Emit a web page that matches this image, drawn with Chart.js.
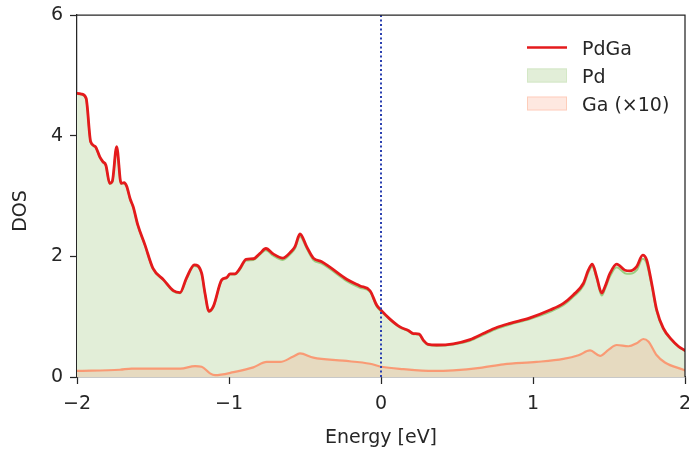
<!DOCTYPE html>
<html>
<head>
<meta charset="utf-8">
<script src="https://cdn.jsdelivr.net/npm/chart.js@4"></script>
<style>
  html, body { margin: 0; padding: 0; background: #ffffff; }
  canvas { display: block; }
</style>
</head>
<body>
<canvas id="dos" width="689" height="452"></canvas>
<script>
// Density of states of PdGa around the Fermi level
const pdgaEnergy = [
  -2.00, -1.97, -1.94, -1.91, -1.88, -1.85, -1.83, -1.81, -1.785, -1.768,
  -1.739, -1.71, -1.69, -1.673, -1.65, -1.63, -1.60, -1.553, -1.50, -1.43,
  -1.366, -1.322, -1.28, -1.228, -1.18, -1.158, -1.132, -1.103, -1.048, -1.015,
  -0.993, -0.961, -0.928, -0.888, -0.84, -0.796, -0.757, -0.709, -0.647, -0.588,
  -0.566, -0.533, -0.489, -0.445, -0.39, -0.336, -0.226, -0.138, -0.072, -0.028,
  0.003, 0.059, 0.125, 0.18, 0.213, 0.252, 0.278, 0.311, 0.366, 0.476,
  0.586, 0.673, 0.761, 0.849, 0.98, 1.112, 1.20, 1.265, 1.331, 1.364,
  1.39, 1.419, 1.452, 1.474, 1.507, 1.551, 1.605, 1.638, 1.682, 1.722,
  1.748, 1.781, 1.814, 1.857, 1.912, 1.956, 2.00
];
const pdgaDos = [
  4.70, 4.69, 4.62, 3.90, 3.82, 3.65, 3.57, 3.51, 3.21, 3.24,
  3.82, 3.21, 3.22, 3.16, 2.95, 2.82, 2.52, 2.19, 1.80, 1.61,
  1.43, 1.40, 1.64, 1.86, 1.72, 1.39, 1.09, 1.17, 1.61, 1.65,
  1.71, 1.71, 1.80, 1.95, 1.96, 2.05, 2.13, 2.04, 1.97, 2.09,
  2.16, 2.37, 2.16, 1.97, 1.91, 1.82, 1.62, 1.51, 1.43, 1.19,
  1.10, 0.96, 0.83, 0.77, 0.72, 0.71, 0.61, 0.54, 0.53, 0.55,
  0.62, 0.72, 0.82, 0.89, 0.98, 1.11, 1.22, 1.36, 1.55, 1.77,
  1.87, 1.66, 1.39, 1.50, 1.72, 1.87, 1.77, 1.76, 1.83, 2.02,
  1.94, 1.55, 1.11, 0.81, 0.62, 0.51, 0.44
];
const pdDos = [
  4.69, 4.68, 4.61, 3.89, 3.81, 3.64, 3.56, 3.50, 3.20, 3.23,
  3.81, 3.20, 3.21, 3.15, 2.94, 2.81, 2.51, 2.18, 1.79, 1.60,
  1.42, 1.39, 1.62, 1.84, 1.70, 1.38, 1.08, 1.16, 1.60, 1.64,
  1.70, 1.70, 1.78, 1.93, 1.94, 2.03, 2.10, 2.01, 1.94, 2.06,
  2.13, 2.33, 2.13, 1.94, 1.88, 1.79, 1.59, 1.48, 1.41, 1.17,
  1.08, 0.95, 0.82, 0.76, 0.71, 0.70, 0.60, 0.53, 0.52, 0.54,
  0.60, 0.70, 0.80, 0.87, 0.96, 1.08, 1.19, 1.33, 1.51, 1.73,
  1.83, 1.63, 1.35, 1.46, 1.67, 1.82, 1.72, 1.71, 1.77, 1.96,
  1.88, 1.51, 1.08, 0.79, 0.61, 0.50, 0.43
];
const gaEnergy = [
  -2.00, -1.717, -1.64, -1.32, -1.224, -1.18, -1.125, -1.092, -0.97, -0.84,
  -0.752, -0.664, -0.577, -0.533, -0.445, -0.248, -0.072, 0.003, 0.147, 0.344,
  0.476, 0.651, 0.805, 1.024, 1.20, 1.299, 1.375, 1.441, 1.496, 1.551,
  1.628, 1.682, 1.726, 1.759, 1.814, 1.868, 1.99, 2.00
];
const gaDos10 = [
  0.10, 0.12, 0.14, 0.14, 0.18, 0.17, 0.06, 0.03, 0.08, 0.16,
  0.25, 0.25, 0.34, 0.39, 0.32, 0.27, 0.22, 0.17, 0.13, 0.10,
  0.11, 0.15, 0.21, 0.25, 0.30, 0.36, 0.44, 0.35, 0.45, 0.53,
  0.51, 0.56, 0.63, 0.59, 0.36, 0.24, 0.12, 0.11
];
const seriesLabels = ['PdGa', 'Pd', 'Ga (\u00d710)'];
const energyTicks = [-2, -1, 0, 1, 2];
const dosTicks = [0, 2, 4, 6];
const fermiLevel = 0;

const INK = '#262626';
const FONT = 'DejaVu Sans';

const toPoints = (xs, ys) => xs.map((x, i) => ({ x, y: ys[i] }));
const fmtTick = v => (v < 0 ? '\u2212' + Math.abs(v) : String(v));

Chart.defaults.font.family = FONT;
Chart.defaults.font.size = 19;
Chart.defaults.color = INK;

// Box frame, Fermi-level marker, axis label and legend
const decorations = {
  id: 'decorations',
  afterDatasetsDraw(chart) {
    const { ctx, chartArea: a, scales: { x } } = chart;
    const xf = x.getPixelForValue(fermiLevel);
    ctx.save();
    ctx.strokeStyle = '#2b40b0';
    ctx.lineWidth = 2;
    ctx.setLineDash([2, 2.5]);
    ctx.beginPath();
    ctx.moveTo(xf, a.top);
    ctx.lineTo(xf, a.bottom);
    ctx.stroke();
    ctx.restore();
  },
  afterDraw(chart) {
    const { ctx, chartArea: a } = chart;
    const ds = chart.data.datasets;
    ctx.save();
    // top and right spines
    ctx.strokeStyle = INK;
    ctx.lineWidth = 1.25;
    ctx.beginPath();
    ctx.moveTo(a.left, a.top);
    ctx.lineTo(a.right, a.top);
    ctx.lineTo(a.right, a.bottom);
    ctx.stroke();

    // y-axis label
    ctx.fillStyle = INK;
    ctx.font = '19px ' + FONT;
    ctx.textAlign = 'center';
    ctx.textBaseline = 'middle';
    ctx.translate(21, 211);
    ctx.rotate(-Math.PI / 2);
    ctx.fillText('DOS', 0, 0);
    ctx.setTransform(1, 0, 0, 1, 0, 0);

    // legend
    const lx = 527, lw = 40, tx = 582;
    const base = [54.5, 82.5, 110.5];
    ctx.textAlign = 'left';
    ctx.textBaseline = 'alphabetic';
    ds.forEach((d, i) => {
      const yb = base[i];
      const yc = yb - 7;
      if (i === 0) {
        ctx.strokeStyle = d.borderColor;
        ctx.lineWidth = 2.6;
        ctx.beginPath();
        ctx.moveTo(lx, yc);
        ctx.lineTo(lx + lw, yc);
        ctx.stroke();
      } else {
        ctx.fillStyle = d.backgroundColor;
        ctx.fillRect(lx, yc - 7, lw, 14);
        ctx.strokeStyle = d.legendEdge;
        ctx.lineWidth = 1;
        ctx.strokeRect(lx + 0.5, yc - 6.5, lw - 1, 13);
      }
      ctx.fillStyle = INK;
      ctx.fillText(d.label, tx, yb);
    });
    ctx.restore();
  }
};

new Chart(document.getElementById('dos'), {
  type: 'line',
  data: {
    datasets: [
      {
        label: seriesLabels[0],
        data: toPoints(pdgaEnergy, pdgaDos),
        borderColor: '#e41a1c',
        borderWidth: 2.8,
        fill: false,
        order: 0
      },
      {
        label: seriesLabels[1],
        data: toPoints(pdgaEnergy, pdDos),
        borderColor: 'rgba(140,200,110,0.85)',
        backgroundColor: 'rgb(226,238,216)',
        legendEdge: 'rgb(212,232,198)',
        borderWidth: 2,
        fill: 'origin',
        order: 2
      },
      {
        label: seriesLabels[2],
        data: toPoints(gaEnergy, gaDos10),
        borderColor: 'rgba(250,150,112,0.95)',
        backgroundColor: 'rgba(252,141,98,0.2)',
        legendEdge: 'rgba(252,141,98,0.3)',
        borderWidth: 2.2,
        fill: 'origin',
        order: 1
      }
    ]
  },
  options: {
    responsive: false,
    animation: false,
    devicePixelRatio: 1,
    layout: { padding: { top: 15, right: 4, left: 0, bottom: 0 } },
    elements: {
      point: { radius: 0, hoverRadius: 0 },
      line: { cubicInterpolationMode: 'monotone', borderJoinStyle: 'round', borderCapStyle: 'round' }
    },
    plugins: {
      legend: { display: false },
      tooltip: { enabled: false },
      filler: { propagate: false }
    },
    scales: {
      x: {
        type: 'linear',
        min: -2,
        max: 2,
        afterBuildTicks: s => { s.ticks = energyTicks.map(v => ({ value: v })); },
        afterFit: s => { s.height = 75; s.paddingLeft = 0; s.paddingRight = 0; },
        ticks: { callback: fmtTick, maxRotation: 0, autoSkip: false, padding: 9, color: INK },
        grid: { drawOnChartArea: false, drawTicks: true, tickLength: 7, tickColor: INK, tickWidth: 1.25 },
        border: { color: INK, width: 1.25 },
        title: { display: true, text: 'Energy [eV]', color: INK, font: { size: 19 }, padding: { top: 0, bottom: 3 } }
      },
      y: {
        type: 'linear',
        min: 0,
        max: 6,
        afterBuildTicks: s => { s.ticks = dosTicks.map(v => ({ value: v })); },
        afterFit: s => { s.width = 77; s.paddingTop = 0; s.paddingBottom = 0; },
        ticks: { callback: fmtTick, padding: 7, color: INK },
        grid: { drawOnChartArea: false, drawTicks: true, tickLength: 7, tickColor: INK, tickWidth: 1.25 },
        border: { color: INK, width: 1.25 }
      }
    }
  },
  plugins: [decorations]
});
</script>
</body>
</html>
